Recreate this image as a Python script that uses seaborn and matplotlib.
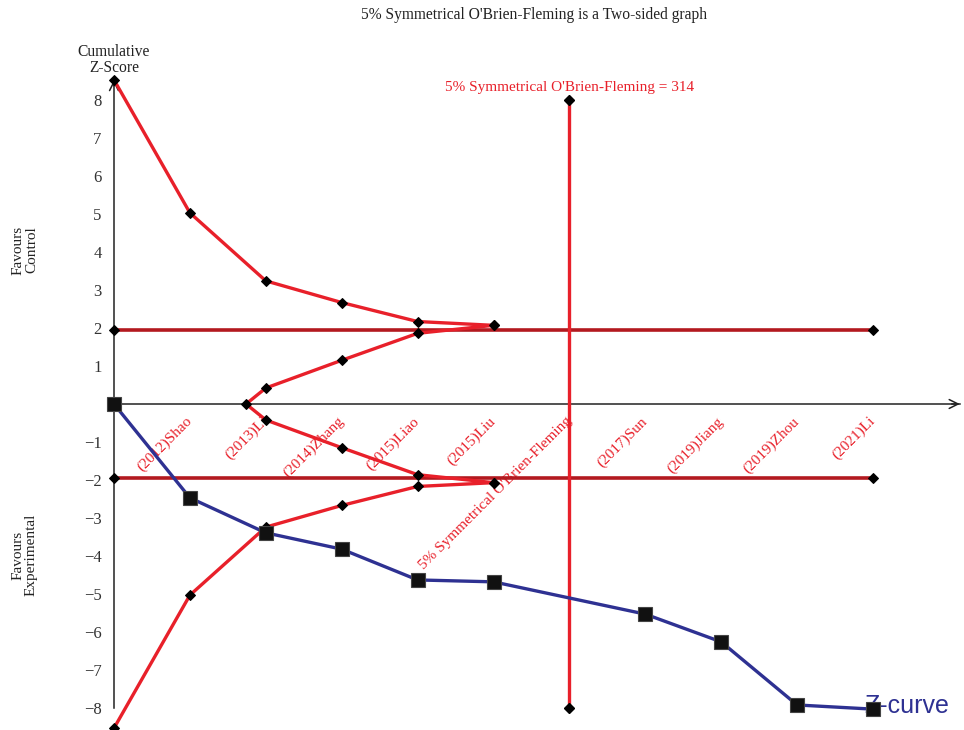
import matplotlib
matplotlib.use("Agg")
import matplotlib.pyplot as plt
import pandas as pd
import seaborn as sns

# Trial sequential analysis: cumulative Z-curve against O'Brien-Fleming boundaries
studies = ["(2012)Shao", "(2013)Li", "(2014)Zhang", "(2015)Liao", "(2015)Liu",
           "5% Symmetrical O'Brien-Fleming", "(2017)Sun", "(2019)Jiang",
           "(2019)Zhou", "(2021)Li"]
study_pos = [1, 2, 3, 4, 5, 6, 7, 8, 9, 10]

z_pos = [0, 1, 2, 3, 4, 5, 7, 8, 9, 10]
z_score = [0.0, -2.47, -3.39, -3.82, -4.63, -4.68, -5.53, -6.26, -7.92, -8.03]

bound_pos = [0, 1, 2, 3, 4, 5]
bound_upper = [8.53, 5.03, 3.24, 2.67, 2.17, 2.07]

inner_pos = [1.74, 2, 3, 4, 5]
inner_upper = [0.0, 0.42, 1.15, 1.86, 2.07]

conventional_z = 1.96
ris_pos = 6
ris_extent = 8
ris_value = 314

y_ticks = [-8, -7, -6, -5, -4, -3, -2, -1, 1, 2, 3, 4, 5, 6, 7, 8]

RED = "#e8202a"
DARK_RED = "#b3191f"
BLUE = "#2e3192"
INK = "#222222"

sns.set_style("white")
plt.rcParams["font.family"] = ["Liberation Serif", "DejaVu Serif"]

fig = plt.figure(figsize=(9.64, 7.30), dpi=100)
ax = fig.add_axes([0, 0, 1, 1])
ax.set_xlim(-114 / 75.9, 850 / 75.9)
ax.set_ylim(-326 / 38, 404 / 38)

diamond = dict(marker="D", markersize=5, markerfacecolor="black",
               markeredgecolor="black")

# conventional significance limits
for sign in (1, -1):
    sns.lineplot(x=[0, 10], y=[sign * conventional_z] * 2, ax=ax, color=DARK_RED,
                 lw=2.6, sort=False, estimator=None, zorder=3, **diamond)

# required information size line
ax.plot([ris_pos, ris_pos], [-ris_extent, ris_extent], color=RED, lw=2.4,
        zorder=3, **diamond)

# O'Brien-Fleming efficacy boundaries
for sign in (1, -1):
    sns.lineplot(x=bound_pos, y=[sign * v for v in bound_upper], ax=ax, color=RED,
                 lw=2.4, sort=False, estimator=None, zorder=4, **diamond)

# inner wedge boundaries
wedge_x = inner_pos[::-1] + inner_pos[1:]
wedge_y = inner_upper[::-1] + [-v for v in inner_upper[1:]]
sns.lineplot(x=wedge_x, y=wedge_y, ax=ax, color=RED, lw=2.4, sort=False,
             estimator=None, zorder=4, **diamond)

# cumulative Z-curve
zdf = pd.DataFrame({"pos": z_pos, "z": z_score})
sns.lineplot(data=zdf, x="pos", y="z", ax=ax, color=BLUE, lw=2.4, sort=False,
             estimator=None, marker="s", markersize=10, markerfacecolor="#111111",
             markeredgecolor="#444444", markeredgewidth=0.8, zorder=6)

# axes through the origin
for s in ("top", "right"):
    ax.spines[s].set_visible(False)
ax.spines["left"].set_position(("data", 0))
ax.spines["bottom"].set_position(("data", 0))
ax.spines["left"].set_bounds(-8, 8.5)
ax.spines["bottom"].set_bounds(0, 11.15)
for s in ("left", "bottom"):
    ax.spines[s].set_linewidth(1.1)
    ax.spines[s].set_color(INK)
ax.annotate("", xy=(11.18, 0), xytext=(11.0, 0),
            arrowprops=dict(arrowstyle="->", lw=1.1, color=INK,
                            mutation_scale=16))
ax.annotate("", xy=(0, 8.6), xytext=(0, 8.3),
            arrowprops=dict(arrowstyle="->", lw=1.1, color=INK,
                            mutation_scale=16))

ax.set_yticks(y_ticks)
ax.tick_params(axis="y", direction="out", length=7, width=1.1, pad=2,
               labelsize=12, labelcolor="#333333", color=INK)
ax.set_xticks(study_pos)
ax.set_xticklabels(studies, rotation=45, ha="right", va="center",
                   rotation_mode="anchor", color=RED, fontsize=11)
ax.tick_params(axis="x", direction="out", length=7, width=1.1, pad=4,
               color=INK)
ax.set_xlabel("")
ax.set_ylabel("")
ax.grid(False)

ax.text(ris_pos, (404 - 88) / 38,
        f"5% Symmetrical O'Brien-Fleming = {ris_value}",
        color=RED, fontsize=11, ha="center", va="center")
ax.text(9.89, (404 - 706) / 38, "Z-curve", color=BLUE, fontsize=18,
        family=["Liberation Sans", "DejaVu Sans"], ha="left", va="center",
        zorder=5)
ax.text(0, (404 - 60) / 38, "Cumulative\nZ-Score", ha="center", va="center",
        fontsize=11.2, linespacing=1.0, color=INK)

fig.text(534 / 964, 1 - 15 / 730,
         "5% Symmetrical O'Brien-Fleming is a Two-sided graph",
         ha="center", va="center", fontsize=11.2, color=INK)
fig.text(25 / 964, 1 - 250 / 730, "Favours\nControl", rotation=90,
         ha="center", va="center", fontsize=11, linespacing=1.0, color=INK)
fig.text(25 / 964, 1 - 555 / 730, "Favours\nExperimental", rotation=90,
         ha="center", va="center", fontsize=11, linespacing=1.0, color=INK)

fig.savefig("out.png", dpi=100)
